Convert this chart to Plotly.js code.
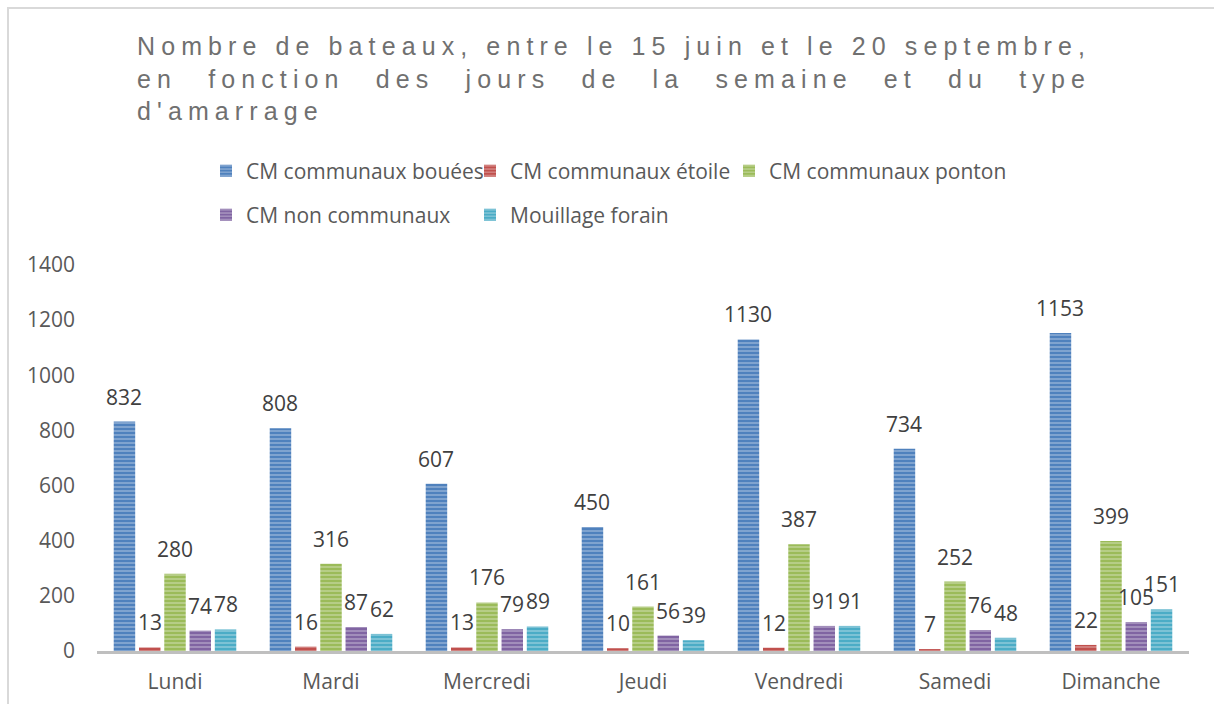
<!DOCTYPE html>
<html><head><meta charset="utf-8">
<script src="https://cdn.plot.ly/plotly-3.0.1.min.js"></script>
<style>
body{margin:0;background:#fff;}
#chart{width:1214px;height:704px;}
#frame{position:absolute;left:7px;top:7px;width:1300px;height:800px;border-left:2px solid #d9d9d9;border-top:2px solid #d9d9d9;pointer-events:none;}
.gtitle{letter-spacing:6.1px;}
</style>
</head><body>
<div id="chart"></div>
<div id="frame"></div>
<script>
const days = ["Lundi","Mardi","Mercredi","Jeudi","Vendredi","Samedi","Dimanche"];
const seriesNames = ["CM communaux bouées","CM communaux étoile","CM communaux ponton","CM non communaux","Mouillage forain"];
const bouees = [832,808,607,450,1130,734,1153];
const etoile = [13,16,13,10,12,7,22];
const ponton = [280,316,176,161,387,252,399];
const nonCommunaux = [74,87,79,56,91,76,105];
const forain = [78,62,89,39,91,48,151];
const yTicks = [0,200,400,600,800,1000,1200,1400];

const values = [bouees, etoile, ponton, nonCommunaux, forain];
const colors = ["#4F81BD","#C0504D","#9BBB59","#8064A2","#4BACC6"];
const legendIds = ["legend","legend2","legend3","legend4","legend5"];
const legendX = [206, 470, 729, 206, 470];
const legendY = [171, 171, 171, 215, 215];

const W = 1214, H = 704, ML = 97, MR = 25, MT = 265, MB = 53;
const BARGAP = 0.19, GROUPGAP = 0.15;
const FONT = '"Open Sans", sans-serif';

const traces = values.map((v,i)=>({
  type:'bar', name:seriesNames[i], x:days, y:v,
  legend:legendIds[i],
  marker:{color:colors[i],
    pattern:{shape:'-', bgcolor:colors[i], fgcolor:'#ffffff', fgopacity:0.45, size:4, solidity:0.3}},
  hoverinfo:'skip'
}));

// data labels, centred above each bar of the group
const slot = ((W-ML-MR)/days.length)*(1-BARGAP)/values.length;
const annotations = [];
values.forEach((v,i)=>{
  v.forEach((val,j)=>{
    annotations.push({x:days[j], y:val, xref:'x', yref:'y', text:String(val), showarrow:false,
      xanchor:'center', yanchor:'middle', xshift:(i-(values.length-1)/2)*slot, yshift:25,
      font:{family:FONT, size:21, color:'#404040'}});
  });
});

const legendBase = {orientation:'h', xref:'container', yref:'container', xanchor:'left', yanchor:'middle',
  font:{family:FONT, size:21, color:'#595959'},
  bgcolor:'rgba(0,0,0,0)', itemclick:false, itemdoubleclick:false, traceorder:'normal'};

const layout = {
  width:W, height:H,
  paper_bgcolor:'#fff', plot_bgcolor:'#fff',
  margin:{l:ML, r:MR, t:MT, b:MB},
  title:{text:"Nombre de bateaux, entre le 15 juin et le 20 septembre,<br>en fonction des jours de la semaine et du type<br>d'amarrage",
    xref:'container', yref:'container', x:137/W, xanchor:'left', y:1-55/H, yanchor:'top',
    font:{family:'Liberation Sans, Arial, sans-serif', size:25, color:'#707070'}},
  barmode:'group', bargap:BARGAP, bargroupgap:GROUPGAP,
  annotations:annotations,
  xaxis:{type:'category', showgrid:false, zeroline:false, showline:true, linecolor:'#bfbfbf', linewidth:3,
    ticks:'', ticklabelstandoff:10, tickfont:{family:FONT, size:21, color:'#595959'}, fixedrange:true},
  yaxis:{range:[0,1400], tickvals:yTicks, ticktext:yTicks.map(String), showgrid:false, zeroline:false, showline:false,
    ticks:'', ticklabelstandoff:21, tickfont:{family:FONT, size:21, color:'#595959'}, fixedrange:true},
  showlegend:true
};
legendIds.forEach((id,i)=>{
  layout[id] = Object.assign({}, legendBase, {x:legendX[i]/W, y:1-legendY[i]/H});
});

Plotly.newPlot('chart', traces, layout, {displayModeBar:false, staticPlot:true}).then(()=>{
  const lines = document.querySelectorAll('.gtitle tspan.line');
  if(lines.length>=2){
    const target = lines[0].getComputedTextLength();
    const l2 = lines[1];
    const txt = l2.textContent;
    const spaces = (txt.match(/ /g)||[]).length;
    const w = l2.getComputedTextLength();
    if(spaces>0 && target>w){ l2.style.wordSpacing = ((target-w)/spaces)+'px'; }
  }
});
</script>
</body></html>
